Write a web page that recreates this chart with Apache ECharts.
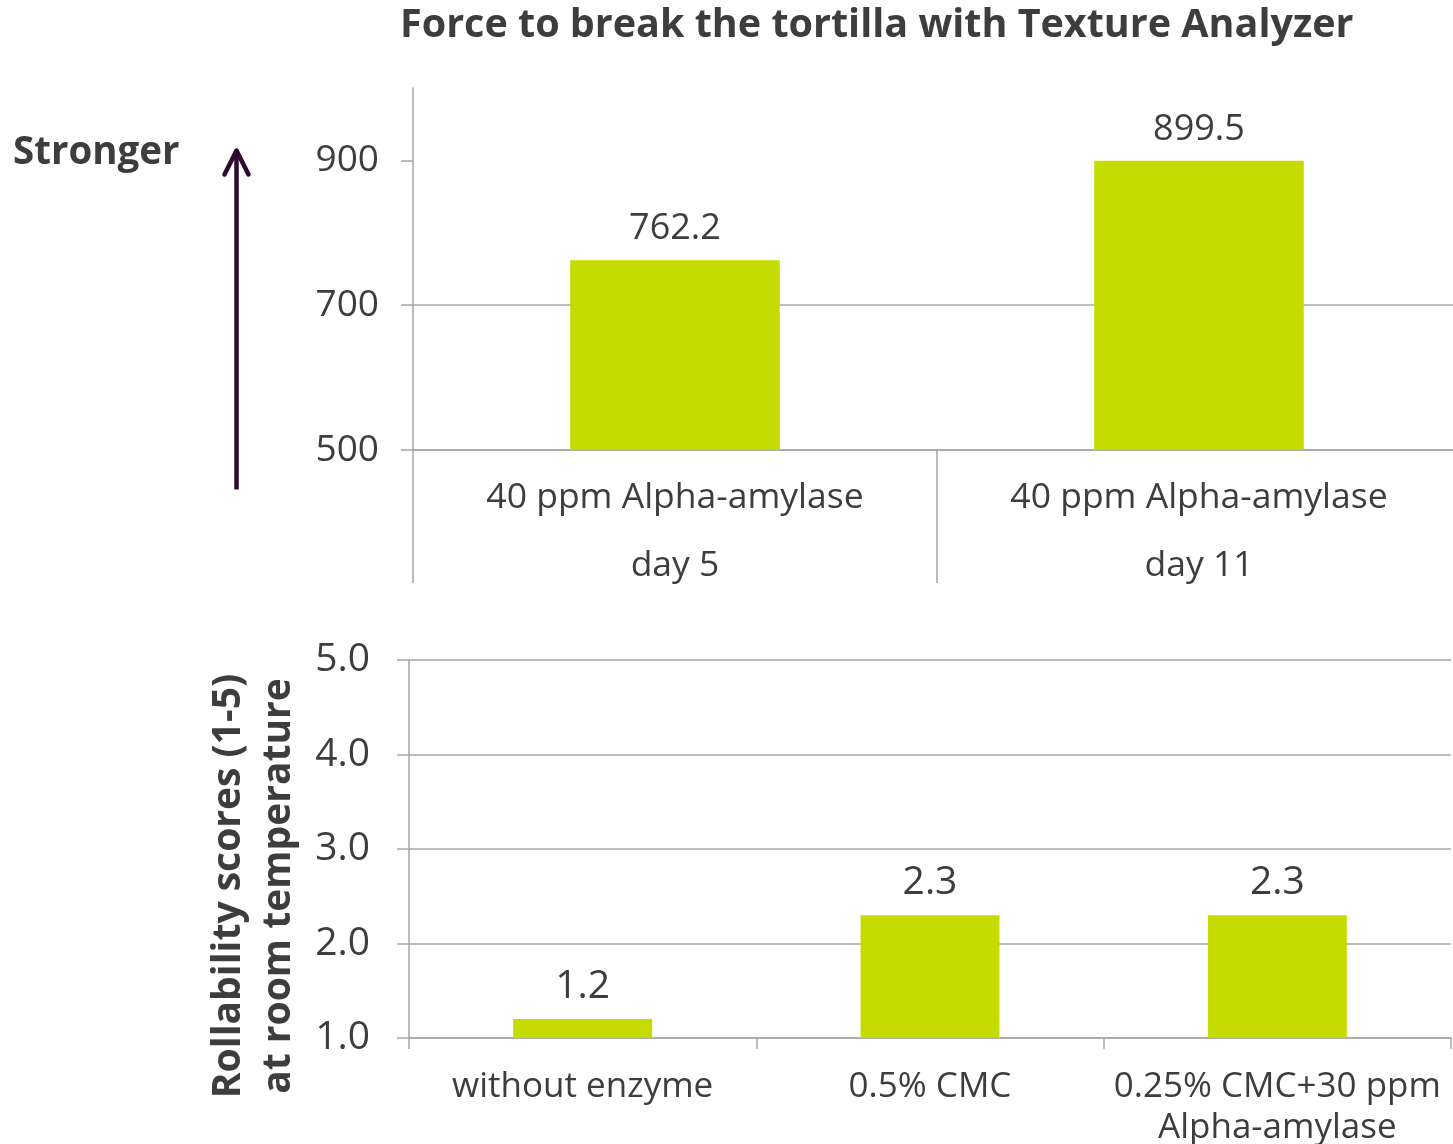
<!DOCTYPE html>
<html>
<head>
<meta charset="utf-8">
<title>Tortilla texture</title>
<script src="https://cdn.jsdelivr.net/npm/echarts@6/dist/echarts.min.js"></script>
<style>
  html, body { margin: 0; padding: 0; background: #ffffff; }
  #chart { width: 1453px; height: 1144px; }
</style>
</head>
<body>
<div id="chart"></div>
<script>
// Force to break the tortilla (Texture Analyzer)
const forceCategories = ['40 ppm Alpha-amylase\nday 5', '40 ppm Alpha-amylase\nday 11'];
const forceValues = [762.2, 899.5];
const forceTicks = [500, 700, 900];

// Rollability scores at room temperature
const rollCategories = ['without enzyme', '0.5% CMC', '0.25% CMC+30 ppm\nAlpha-amylase'];
const rollValues = [1.2, 2.3, 2.3];
const rollTicks = [1, 2, 3, 4, 5];

const TEXT = '#3b3e3b';
const GRID = '#a6a6a6';
const BAR = '#c6dc00';
const ARROW = '#2e0a2c';
const FONT = '"Open Sans", "Liberation Sans", sans-serif';

const chart = echarts.init(document.getElementById('chart'), null, { renderer: 'canvas' });

chart.setOption({
  animation: false,
  backgroundColor: '#ffffff',
  textStyle: { fontFamily: FONT, color: TEXT },
  title: {
    text: 'Force to break the tortilla with Texture Analyzer',
    left: 395,
    top: 1,
    textStyle: { fontFamily: FONT, fontWeight: 'bold', fontSize: 39.5, color: TEXT }
  },
  grid: [
    { left: 413, width: 1048, top: 88, height: 362, containLabel: false, outerBoundsMode: 'none' },
    { left: 409, width: 1042, top: 660, height: 378, containLabel: false, outerBoundsMode: 'none' }
  ],
  xAxis: [
    {
      type: 'category',
      gridIndex: 0,
      data: forceCategories,
      axisLine: { show: true, lineStyle: { color: GRID, width: 1.5 } },
      axisTick: { show: true, length: 133, lineStyle: { color: GRID, width: 1.5 } },
      axisLabel: {
        color: TEXT, fontSize: 35.5, fontFamily: FONT,
        lineHeight: 68, margin: 14, interval: 0
      }
    },
    {
      type: 'category',
      gridIndex: 1,
      data: rollCategories,
      axisLine: { show: true, lineStyle: { color: GRID, width: 1.5 } },
      axisTick: { show: true, length: 11, lineStyle: { color: GRID, width: 1.5 } },
      axisLabel: {
        color: TEXT, fontSize: 35, fontFamily: FONT,
        lineHeight: 41, margin: 29, interval: 0
      }
    }
  ],
  yAxis: [
    {
      type: 'value',
      gridIndex: 0,
      min: 500,
      max: 1000,
      interval: 200,
      axisLine: { show: true, lineStyle: { color: GRID, width: 1.5 } },
      axisTick: { show: true, length: 12, customValues: forceTicks, lineStyle: { color: GRID, width: 1.5 } },
      axisLabel: { color: TEXT, fontSize: 37, fontFamily: FONT, margin: 34, customValues: forceTicks },
      splitLine: { show: true, showMaxLine: false, lineStyle: { color: GRID, width: 1.5 } }
    },
    {
      type: 'value',
      gridIndex: 1,
      min: 1,
      max: 5,
      interval: 1,
      name: 'Rollability scores (1-5)\nat room temperature',
      nameLocation: 'middle',
      nameRotate: 90,
      nameGap: 99,
      nameTextStyle: {
        color: TEXT, fontSize: 39, fontWeight: 'bold', fontFamily: FONT,
        lineHeight: 50, padding: [0, 74, 0, 0]
      },
      axisLine: { show: true, lineStyle: { color: GRID, width: 1.5 } },
      axisTick: { show: true, length: 12, customValues: rollTicks, lineStyle: { color: GRID, width: 1.5 } },
      axisLabel: {
        color: TEXT, fontSize: 39, fontFamily: FONT, margin: 39,
        customValues: rollTicks,
        formatter: v => v.toFixed(1)
      },
      splitLine: { show: true, lineStyle: { color: GRID, width: 1.5 } }
    }
  ],
  series: [
    {
      type: 'bar',
      xAxisIndex: 0,
      yAxisIndex: 0,
      data: forceValues,
      barWidth: '40%',
      itemStyle: { color: BAR },
      label: {
        show: true, position: 'top', distance: 13,
        color: TEXT, fontSize: 36, fontFamily: FONT,
        formatter: p => p.value.toFixed(1)
      }
    },
    {
      type: 'bar',
      xAxisIndex: 1,
      yAxisIndex: 1,
      data: rollValues,
      barWidth: '40%',
      itemStyle: { color: BAR },
      label: {
        show: true, position: 'top', distance: 13,
        color: TEXT, fontSize: 39, fontFamily: FONT,
        formatter: p => p.value.toFixed(1)
      }
    }
  ],
  graphic: [
    {
      type: 'text',
      left: 13,
      top: 134,
      style: { text: 'Stronger', font: 'bold 38.5px ' + FONT, fill: TEXT }
    },
    {
      type: 'group',
      left: 222,
      top: 148,
      children: [
        { type: 'line', shape: { x1: 15, y1: 3, x2: 15, y2: 342 }, style: { stroke: ARROW, lineWidth: 4.5 } },
        { type: 'polyline', shape: { points: [[3, 27], [15, 3], [27, 27]] }, style: { stroke: ARROW, lineWidth: 4.5, lineCap: 'round', lineJoin: 'round', fill: null } }
      ]
    }
  ]
});
</script>
</body>
</html>
